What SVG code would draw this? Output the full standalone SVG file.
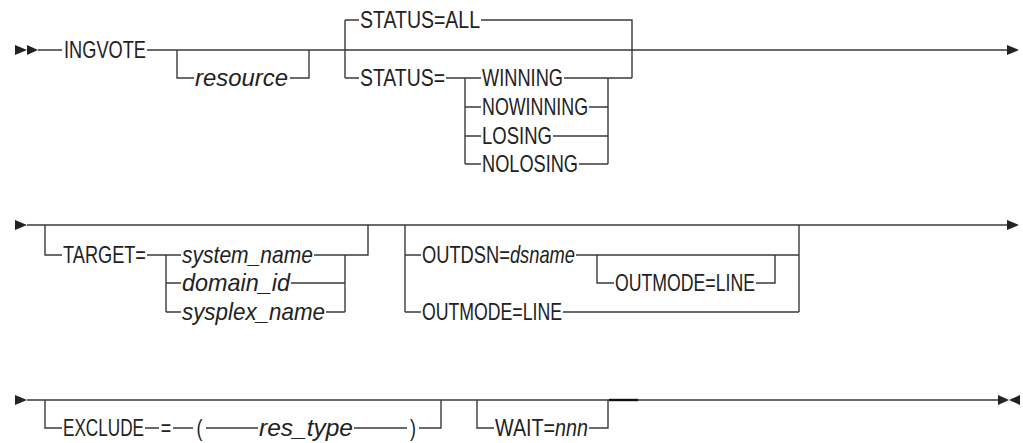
<svg xmlns="http://www.w3.org/2000/svg" width="1023" height="443" viewBox="0 0 1023 443">
<style>
.ln{stroke:#3a3a3a;stroke-width:1.4;fill:none}
.ar{fill:#222;stroke:none}
.t{font-family:"Liberation Sans",Arial,sans-serif;font-size:23px;fill:#222}
.i{font-style:italic}
</style>
<rect width="1023" height="443" fill="#fff"/>
<g id="connectors">
<path class="ln" d="M38,50H62M147,50H1007M177,50V78H194M290,78H309V50M345,20V78M345,20H359M345,78H359M481,20H632V78M446,78H481M564,78H632M465,78V164M465,107H481M465,136H481M465,164H481M608,78V164M589,107H608M553,136H608M579,164H608"/>
<path class="ln" d="M27,225H1007M45,225V255H62M147,255H181M166,255V312M166,283H181M166,312H181M314,255H368V225M291,283H345M326,312H345M345,255V312M405,225V312M405,255H421M405,312H421M576,255H799M597,255V283H614M756,283H775V255M563,312H799M799,225V312"/>
<path class="ln" d="M27,400H998M45,400V428H62M145,428H159M173,428H193M206,428H258M354,428H407M419,428H441V400M477,400V428H494M589,428H608V400"/>
<path d="M609,400H638" stroke="#111" stroke-width="2.4"/>
<polygon class="ar" points="15,45 27,50 15,55"/>
<polygon class="ar" points="27,45 38,50 27,55"/>
<polygon class="ar" points="1007,45 1019,50 1007,55"/>
<polygon class="ar" points="15,220 27,225 15,230"/>
<polygon class="ar" points="1007,220 1019,225 1007,230"/>
<polygon class="ar" points="15,395 27,400 15,405"/>
<polygon class="ar" points="998,395 1009,400 998,405"/>
<polygon class="ar" points="1020,395 1009,400 1020,405"/>
</g>
<g id="ingvote"><text class="t" transform="translate(64,58) scale(0.78,1)" textLength="105.1" lengthAdjust="spacingAndGlyphs">INGVOTE</text></g>
<g id="resource"><text class="t i" transform="translate(195,86) scale(0.78,1)" textLength="119.2" lengthAdjust="spacingAndGlyphs">resource</text></g>
<g id="status-all"><text class="t" transform="translate(360,28) scale(0.78,1)" textLength="153.8" lengthAdjust="spacingAndGlyphs">STATUS=ALL</text></g>
<g id="status"><text class="t" transform="translate(360,86) scale(0.78,1)" textLength="109" lengthAdjust="spacingAndGlyphs">STATUS=</text></g>
<g id="winning"><text class="t" transform="translate(482,86) scale(0.78,1)" textLength="103.8" lengthAdjust="spacingAndGlyphs">WINNING</text></g>
<g id="nowinning"><text class="t" transform="translate(482,115) scale(0.78,1)" textLength="135.9" lengthAdjust="spacingAndGlyphs">NOWINNING</text></g>
<g id="losing"><text class="t" transform="translate(482,144) scale(0.78,1)" textLength="89.7" lengthAdjust="spacingAndGlyphs">LOSING</text></g>
<g id="nolosing"><text class="t" transform="translate(482,172) scale(0.78,1)" textLength="123.1" lengthAdjust="spacingAndGlyphs">NOLOSING</text></g>
<g id="target"><text class="t" transform="translate(63,263) scale(0.78,1)" textLength="106.4" lengthAdjust="spacingAndGlyphs">TARGET=</text></g>
<g id="system-name"><text class="t i" transform="translate(182,263) scale(0.78,1)" textLength="167.9" lengthAdjust="spacingAndGlyphs">system_name</text></g>
<g id="domain-id"><text class="t i" transform="translate(182,291) scale(0.78,1)" textLength="138.5" lengthAdjust="spacingAndGlyphs">domain_id</text></g>
<g id="sysplex-name"><text class="t i" transform="translate(182,320) scale(0.78,1)" textLength="183.3" lengthAdjust="spacingAndGlyphs">sysplex_name</text></g>
<g id="outdsn"><text class="t" transform="translate(422,263) scale(0.78,1)" textLength="196.2" lengthAdjust="spacingAndGlyphs">OUTDSN=<tspan class="i">dsname</tspan></text></g>
<g id="outmode-nested"><text class="t" transform="translate(615,291) scale(0.78,1)" textLength="179.5" lengthAdjust="spacingAndGlyphs">OUTMODE=LINE</text></g>
<g id="outmode"><text class="t" transform="translate(422,320) scale(0.78,1)" textLength="179.5" lengthAdjust="spacingAndGlyphs">OUTMODE=LINE</text></g>
<g id="exclude"><text class="t" transform="translate(63,436) scale(0.78,1)" textLength="103.8" lengthAdjust="spacingAndGlyphs">EXCLUDE</text></g>
<g id="equals"><text class="t" transform="translate(166,436) scale(0.78,1)" text-anchor="middle">=</text></g>
<g id="lparen"><text class="t" transform="translate(199.5,436) scale(0.78,1)" text-anchor="middle">(</text></g>
<g id="res-type"><text class="t i" transform="translate(259,436) scale(0.78,1)" textLength="120.5" lengthAdjust="spacingAndGlyphs">res_type</text></g>
<g id="rparen"><text class="t" transform="translate(413,436) scale(0.78,1)" text-anchor="middle">)</text></g>
<g id="wait"><text class="t" transform="translate(495,436) scale(0.78,1)" textLength="119.2" lengthAdjust="spacingAndGlyphs">WAIT=<tspan class="i">nnn</tspan></text></g>
</svg>
